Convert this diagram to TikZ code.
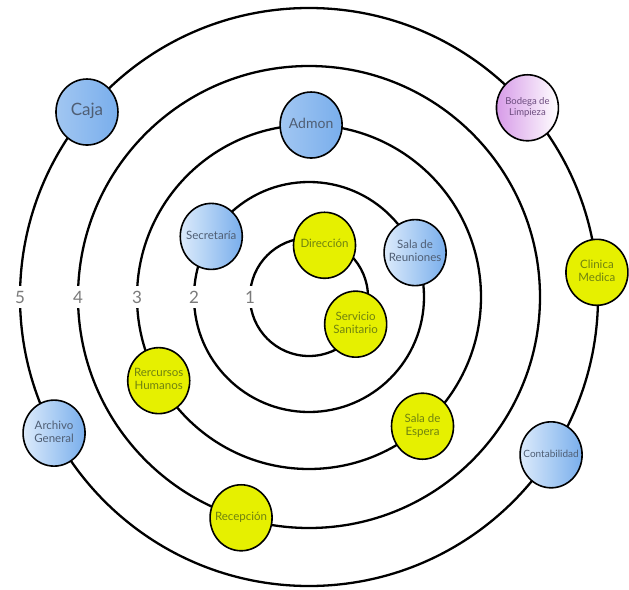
\documentclass[tikz,border=0pt]{standalone}
\usepackage{fontspec}
\setmainfont{Lato}
\usetikzlibrary{shapes.geometric}
\definecolor{BlueL}{HTML}{DCEBFB}
\definecolor{BlueD}{HTML}{79AEEC}
\definecolor{VioL}{HTML}{D79BE8}
\definecolor{Yel}{HTML}{E6F000}
\definecolor{TxtB}{HTML}{4F5E74}
\definecolor{TxtY}{HTML}{6F8210}
\definecolor{TxtV}{HTML}{6C4C7E}
\definecolor{NumC}{HTML}{7A7A7A}
\newcommand\rtxt[1]{\makebox[0pt]{\begin{tabular}{@{}c@{}}#1\end{tabular}}}
\tikzset{
  ring/.style={line width=2.3pt, black},
  room/.style={ellipse, draw=black, line width=1.6pt, minimum width=62pt, minimum height=66pt, inner sep=0pt, align=center, font=\fontsize{11.5}{13}\selectfont},
  blueroom/.style={room, left color=BlueL, right color=BlueD, text=TxtB},
  blueroomB/.style={room, left color=BlueD!70!white, right color=BlueD, text=TxtB, font=\fontsize{17}{19}\selectfont},
  yelroom/.style={room, fill=Yel, text=TxtY},
  vioroom/.style={room, left color=VioL, right color=white, text=TxtV, font=\fontsize{9.5}{11.5}\selectfont},
  num/.style={fill=white, inner xsep=1pt, inner ysep=5pt, text=NumC, font=\fontsize{17}{17}\selectfont}
}
\begin{document}
\begin{tikzpicture}[x=1pt,y=-1pt]
\useasboundingbox (0,0) rectangle (629,589);
\coordinate (c) at (309,297);
% rings
\draw[ring] (c) circle[radius=59pt];
\draw[ring] (c) circle[radius=115pt];
\draw[ring] (c) circle[radius=172pt];
\draw[ring] (c) circle[radius=231pt];
\draw[ring] (c) circle[radius=289pt];
% ring numbers
\node[num] (n1) at ([shift={(180:59pt)}]c) {1};
\node[num] (n2) at ([shift={(180:115pt)}]c) {2};
\node[num] (n3) at ([shift={(180:172pt)}]c) {3};
\node[num] (n4) at ([shift={(180:231pt)}]c) {4};
\node[num] (n5) at ([shift={(180:289pt)}]c) {5};
% rooms
\node[blueroomB] (caja) at ([shift={(140.2:289pt)}]c) {\rtxt{Caja}};
\node[blueroomB, font=\fontsize{14}{16}\selectfont] (admon) at ([shift={(89.3:172pt)}]c) {\rtxt{Admon}};
\node[vioroom] (bodega) at ([shift={(40.9:289pt)}]c) {\rtxt{Bodega de\\Limpieza}};
\node[blueroom] (secre) at ([shift={(148.2:115pt)}]c) {\rtxt{Secretaría}};
\node[yelroom] (dir) at ([shift={(73.3:54pt)}]c) {\rtxt{Dirección}};
\node[blueroom] (reun) at ([shift={(22.7:115pt)}]c) {\rtxt{Sala de\\Reuniones}};
\node[yelroom] (clinica) at ([shift={(4.9:289pt)}]c) {\rtxt{Clinica\\Medica}};
\node[yelroom] (servicio) at ([shift={(-30.2:54pt)}]c) {\rtxt{Servicio\\Sanitario}};
\node[yelroom] (rrhh) at ([shift={(209.1:172pt)}]c) {\rtxt{Rercursos\\Humanos}};
\node[blueroom] (archivo) at ([shift={(208.1:289pt)}]c) {\rtxt{Archivo\\General}};
\node[yelroom] (espera) at ([shift={(-48.7:172pt)}]c) {\rtxt{Sala de\\Espera}};
\node[blueroom, font=\fontsize{10}{12}\selectfont] (conta) at ([shift={(-33.1:289pt)}]c) {\rtxt{Contabilidad}};
\node[yelroom] (recep) at ([shift={(-107.1:231pt)}]c) {\rtxt{Recepción}};
\end{tikzpicture}
\end{document}
